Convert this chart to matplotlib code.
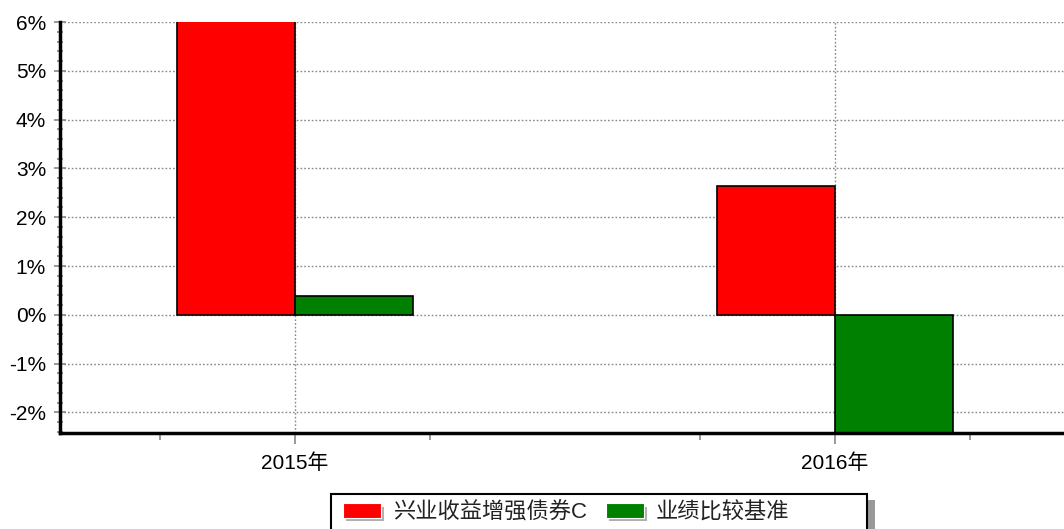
import matplotlib
matplotlib.use("Agg")
import matplotlib.pyplot as plt
import matplotlib.patheffects as pe
import numpy as np
from matplotlib.ticker import MultipleLocator, FixedLocator

plt.rcParams['font.family'] = ['Liberation Sans', 'Noto Sans CJK SC', 'DejaVu Sans']

categories = ['2015年', '2016年']
series_names = ['兴业收益增强债券C', '业绩比较基准']
fund_values = [6.8, 2.64]
bench_values = [0.39, -2.6]
colors = ['#ff0000', '#008000']

W, H = 1064, 529
fig = plt.figure(figsize=(W / 100, H / 100), dpi=100)
ax = fig.add_axes([60 / W, 1 - 433 / H, (W - 60) / W, (433 - 22) / H])

x = np.arange(len(categories))
bw = 0.218
ax.bar(x - bw / 2, fund_values, bw, color=colors[0], edgecolor='black', linewidth=1.2, zorder=3)
ax.bar(x + bw / 2, bench_values, bw, color=colors[1], edgecolor='black', linewidth=1.2, zorder=3)

ax.set_xlim(-0.435, 1.424)
ax.set_ylim(-2.42, 6.0)

ax.set_yticks(np.arange(-2, 7, 1))
ax.set_yticklabels([f'{v}%' for v in range(-2, 7)])
ax.yaxis.set_minor_locator(MultipleLocator(0.2))
ax.set_xticks(x)
ax.set_xticklabels(categories)
ax.xaxis.set_minor_locator(FixedLocator([-0.25, 0.25, 0.75, 1.25]))

ax.grid(True, which='major', axis='both', linestyle=(0, (1.2, 1.5)), color='#888888', linewidth=1.0, zorder=0)

for s in ['top', 'right']:
    ax.spines[s].set_visible(False)
for s in ['left', 'bottom']:
    ax.spines[s].set_linewidth(2.5)
    ax.spines[s].set_color('black')
    ax.spines[s].set_zorder(4)

ax.tick_params(axis='y', which='major', direction='inout', length=8, width=1.2, color='#888888', labelsize=15, pad=6)
ax.tick_params(axis='y', which='minor', direction='inout', length=4, width=1.2, color='#888888')
ax.tick_params(axis='x', which='major', direction='out', length=8, width=1.2, color='#888888', labelsize=15, pad=7)
ax.tick_params(axis='x', which='minor', direction='out', length=5, width=1.2, color='#888888')

# legend (frame drawn separately)
handles = [plt.Rectangle((0, 0), 1, 1, facecolor=c, edgecolor='white', linewidth=0.8) for c in colors]
leg = fig.legend(handles, series_names, loc='upper left', bbox_to_anchor=(343 / W, 1 - 502 / H),
                 ncol=2, frameon=False, fontsize=16,
                 handlelength=1.7, handleheight=0.63, handletextpad=0.55, columnspacing=0.85,
                 borderpad=0, borderaxespad=0)
for h in leg.legend_handles:
    h.set_path_effects([pe.SimplePatchShadow(offset=(2.5, -2.5), shadow_rgbFace='#b0b0b0', alpha=1.0), pe.Normal()])
for t in leg.get_texts():
    t.set_color('#222222')

# legend frame with shadow
fig.add_artist(plt.Rectangle((337 / W, 0), (875 - 337) / W, 1 - 500 / H, transform=fig.transFigure,
                             facecolor='#999999', edgecolor='none', zorder=0))
fig.add_artist(plt.Rectangle((331 / W, -0.01), (867 - 331) / W, 1 - 494 / H + 0.01, transform=fig.transFigure,
                             facecolor='white', edgecolor='black', linewidth=1.5, zorder=1))
leg.set_zorder(5)

fig.savefig('out.png', dpi=100)
